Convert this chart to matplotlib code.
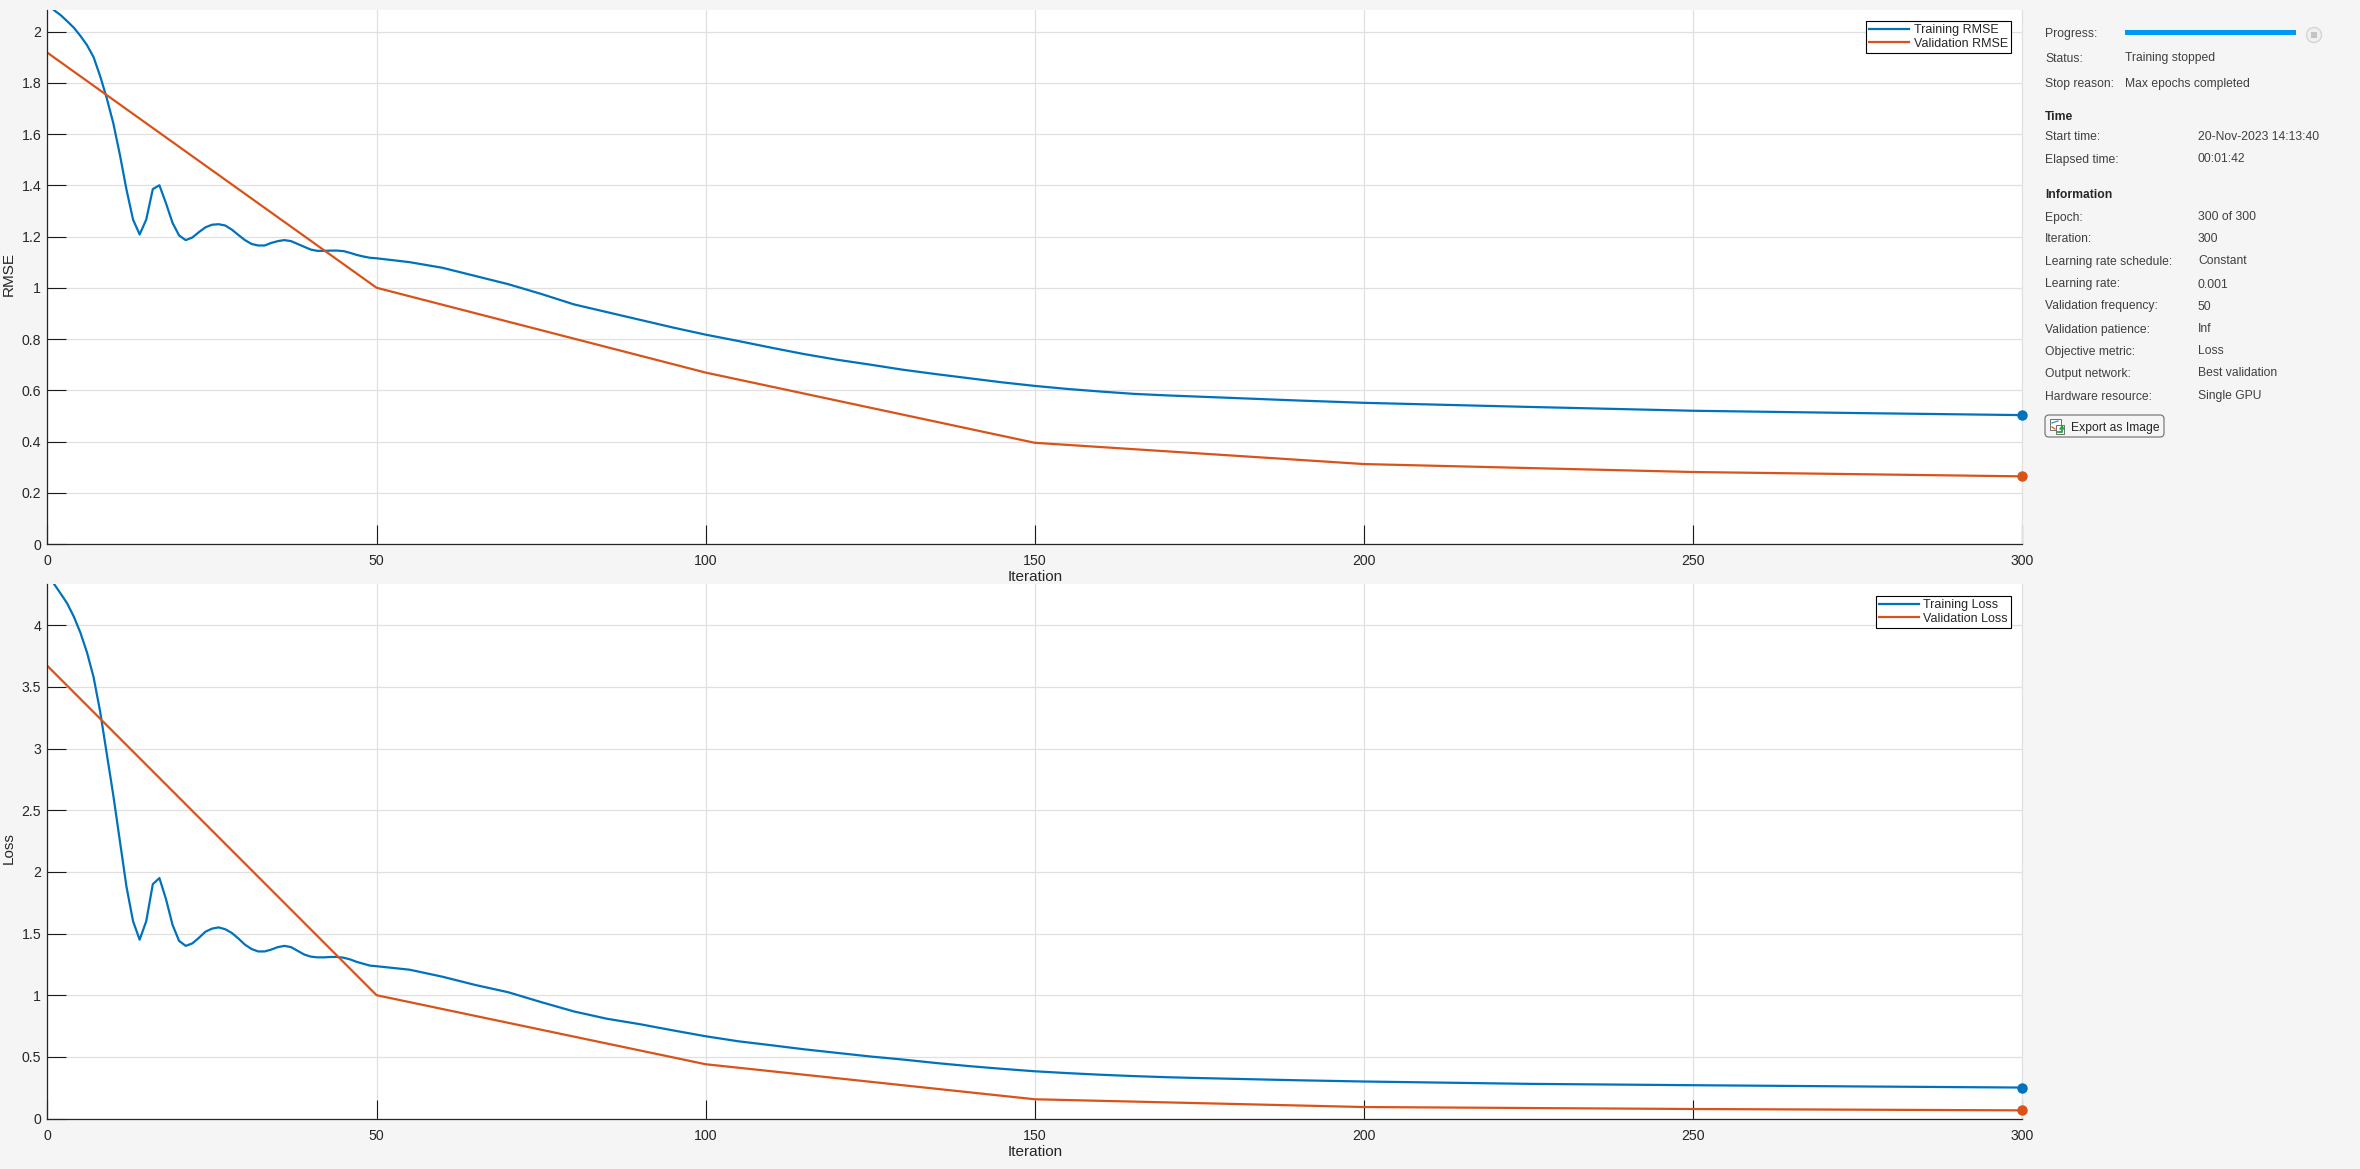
import matplotlib
matplotlib.use('Agg')
import matplotlib.pyplot as plt
from matplotlib.patches import Rectangle, Circle, FancyBboxPatch

plt.rcParams['font.family'] = ['Liberation Sans', 'DejaVu Sans']

# ------------------- data ----------------------------------------------
train_iter = list(range(1, 51)) + [55, 60, 65, 70, 75, 80, 85, 90, 95, 100, 105, 110, 115, 120, 125,
                                   130, 135, 140, 145, 150, 155, 160, 165, 170, 175, 180, 190, 200,
                                   225, 250, 275, 300]

train_rmse = [2.083, 2.064, 2.040, 2.015, 1.983, 1.947, 1.900, 1.826, 1.740, 1.642,
              1.519, 1.383, 1.266, 1.208, 1.266, 1.385, 1.400, 1.330, 1.253, 1.204,
              1.186, 1.196, 1.217, 1.236, 1.246, 1.248, 1.243, 1.227, 1.206, 1.186,
              1.171, 1.165, 1.165, 1.175, 1.182, 1.186, 1.182, 1.171, 1.160, 1.149,
              1.144, 1.144, 1.145, 1.145, 1.143, 1.136, 1.128, 1.122, 1.117, 1.115,
              1.100, 1.078, 1.046, 1.014, 0.976, 0.935, 0.905, 0.875, 0.845, 0.817,
              0.792, 0.766, 0.741, 0.719, 0.700, 0.680, 0.663, 0.647, 0.631, 0.617,
              0.605, 0.595, 0.586, 0.580, 0.575, 0.570, 0.560, 0.551,
              0.535, 0.520, 0.511, 0.503]

train_loss = [4.335, 4.257, 4.177, 4.070, 3.940, 3.780, 3.580, 3.300, 2.960, 2.620,
              2.250, 1.880, 1.600, 1.450, 1.600, 1.900, 1.950, 1.780, 1.570, 1.440,
              1.400, 1.420, 1.465, 1.515, 1.540, 1.550, 1.535, 1.505, 1.460, 1.410,
              1.375, 1.355, 1.355, 1.370, 1.390, 1.400, 1.390, 1.360, 1.330, 1.313,
              1.307, 1.307, 1.310, 1.310, 1.304, 1.290, 1.270, 1.255, 1.240, 1.235,
              1.207, 1.150, 1.083, 1.024, 0.944, 0.868, 0.809, 0.765, 0.715, 0.667,
              0.626, 0.594, 0.561, 0.532, 0.503, 0.478, 0.450, 0.425, 0.403, 0.383,
              0.368, 0.355, 0.344, 0.335, 0.328, 0.322, 0.310, 0.300,
              0.281, 0.270, 0.260, 0.251]

val_iter = [0, 50, 100, 150, 200, 250, 300]
val_rmse = [1.917, 1.000, 0.669, 0.395, 0.312, 0.281, 0.264]
val_loss = [3.670, 1.000, 0.440, 0.156, 0.093, 0.077, 0.066]

x_ticks = [0, 50, 100, 150, 200, 250, 300]
rmse_ticks = [0, 0.2, 0.4, 0.6, 0.8, 1, 1.2, 1.4, 1.6, 1.8, 2]
rmse_tick_labels = ['0', '0.2', '0.4', '0.6', '0.8', '1', '1.2', '1.4', '1.6', '1.8', '2']
loss_ticks = [0, 0.5, 1, 1.5, 2, 2.5, 3, 3.5, 4]
loss_tick_labels = ['0', '0.5', '1', '1.5', '2', '2.5', '3', '3.5', '4']

status_labels = ['Progress:', 'Status:', 'Stop reason:']
status_values = ['', 'Training stopped', 'Max epochs completed']
time_labels = ['Start time:', 'Elapsed time:']
time_values = ['20-Nov-2023 14:13:40', '00:01:42']
info_labels = ['Epoch:', 'Iteration:', 'Learning rate schedule:', 'Learning rate:', 'Validation frequency:',
               'Validation patience:', 'Objective metric:', 'Output network:', 'Hardware resource:']
info_values = ['300 of 300', '300', 'Constant', '0.001', '50', 'Inf', 'Loss', 'Best validation', 'Single GPU']

# ------------------- figure -------------------------
W, H = 2360, 1169
BLUE = '#0072BD'
ORANGE = '#D95319'
BG = '#F5F5F5'
DARK = '#262626'
TEXT = '#404040'

fig = plt.figure(figsize=(W / 100, H / 100), dpi=100, facecolor=BG)

# side panel is drawn in pixel coordinates of the figure
panel = fig.add_axes([0, 0, 1, 1], zorder=-1)
panel.set_xlim(0, W)
panel.set_ylim(H, 0)
panel.axis('off')


def make_axes(top, bottom, ymax, yticks, ylabels, ylabel, train, val, names, leg_box):
    left, right = 47.5, 2022
    ax = fig.add_axes([left / W, 1 - bottom / H, (right - left) / W, (bottom - top) / H])
    ax.set_facecolor('white')
    ax.grid(True, color='#E0E0E0', linewidth=0.9)
    ax.set_axisbelow(True)
    ax.plot(train_iter, train, color=BLUE, linewidth=1.6, label=names[0])
    ax.plot(val_iter, val, color=ORANGE, linewidth=1.6, label=names[1])
    ax.plot(train_iter[-1], train[-1], 'o', color=BLUE, markersize=6.5, clip_on=False, zorder=5)
    ax.plot(val_iter[-1], val[-1], 'o', color=ORANGE, markersize=6.5, clip_on=False, zorder=5)
    ax.set_xlim(0, 300)
    ax.set_ylim(0, ymax)
    ax.set_xticks(x_ticks)
    ax.set_yticks(yticks)
    ax.set_yticklabels(ylabels)
    ax.tick_params(axis='x', direction='in', length=13.7, width=0.8, color='#1A1A1A', labelcolor=DARK,
                   labelsize=10.2, pad=7.3)
    ax.tick_params(axis='y', direction='in', length=13.7, width=0.8, color='#1A1A1A', labelcolor=DARK,
                   labelsize=10.2, pad=4.5)
    ax.spines['top'].set_visible(False)
    ax.spines['right'].set_color('#E0E0E0')
    ax.spines['left'].set_color(DARK)
    ax.spines['bottom'].set_color(DARK)
    for s in ['left', 'bottom']:
        ax.spines[s].set_linewidth(0.9)
    fig.text((left + right) / 2 / W, 1 - (bottom + 33) / H, 'Iteration', color=DARK, fontsize=11,
             ha='center', va='center')
    fig.text(9 / W, 1 - ((top + bottom) / 2 - 3) / H, ylabel, color=DARK, fontsize=11, rotation=90,
             ha='center', va='center')
    leg = ax.legend(loc='upper right', bbox_to_anchor=(leg_box[0] / W, 1 - leg_box[1] / H),
                    bbox_transform=fig.transFigure, borderaxespad=0, fontsize=9,
                    fancybox=False, framealpha=1, edgecolor='black', borderpad=0.25,
                    labelspacing=0.12, handlelength=3.2, handletextpad=0.35)
    leg.get_frame().set_linewidth(0.8)
    for t in leg.get_texts():
        t.set_color(DARK)
    return ax


make_axes(10, 544, 2.084, rmse_ticks, rmse_tick_labels, 'RMSE', train_rmse, val_rmse,
          ['Training RMSE', 'Validation RMSE'], (2011, 21))
make_axes(584, 1118.5, 4.335, loss_ticks, loss_tick_labels, 'Loss', train_loss, val_loss,
          ['Training Loss', 'Validation Loss'], (2011, 596))

# ------------------- side panel -------------------------
LX = 2045
VX = 2198


def row(y, label, value, vx):
    # baseline, so that labels and values line up whatever letters they have
    panel.text(LX, y + 4.5, label, fontsize=8.7, color=TEXT, va='baseline')
    panel.text(vx, y + 4.5, value, fontsize=8.7, color=TEXT, va='baseline')


for y, a, b in zip([32, 57, 82], status_labels, status_values):
    row(y, a, b, 2125)

panel.text(LX, 119.5, 'Time', fontsize=8.7, color=DARK, fontweight='bold', va='baseline')
for y, a, b in zip([135, 158], time_labels, time_values):
    row(y, a, b, VX)

panel.text(LX, 197.5, 'Information', fontsize=8.7, color=DARK, fontweight='bold', va='baseline')
for y, a, b in zip([216, 238, 260, 283, 305, 328, 350, 372, 395], info_labels, info_values):
    row(y, a, b, VX)

# progress bar and stop button
panel.add_patch(Rectangle((2125, 30), 171, 5, facecolor='#0098F5', edgecolor='none'))
panel.add_patch(Circle((2314, 35), 7.5, facecolor='#F0F0F0', edgecolor='#D4D4D4', linewidth=1))
panel.add_patch(Rectangle((2311, 32), 6, 6, facecolor='#C4C4C4', edgecolor='none'))

# export button
panel.add_patch(FancyBboxPatch((2045, 415), 119, 22, boxstyle='round,pad=0,rounding_size=4',
                               facecolor='#F5F5F5', edgecolor='#7A7A7A', linewidth=0.9))
panel.text(2071, 430.5, 'Export as Image', fontsize=8.7, color=DARK, va='baseline')
panel.add_patch(Rectangle((2050, 419), 11, 11, facecolor='white', edgecolor='#6E6E6E', linewidth=0.7))
panel.add_patch(Rectangle((2056, 425), 8, 9, facecolor='white', edgecolor='#6E6E6E', linewidth=0.7))
panel.plot([2052, 2058], [423, 421], color='#2E8BD8', linewidth=0.9)
panel.plot([2052, 2055], [427, 429], color='#D95319', linewidth=0.9)
panel.plot([2058, 2062, 2062], [432, 432, 427], color='#22A33A', linewidth=1.3)
panel.plot([2060, 2062, 2064], [429, 426.5, 429], color='#22A33A', linewidth=1.1)

fig.savefig('out.png', dpi=100, facecolor=BG)
